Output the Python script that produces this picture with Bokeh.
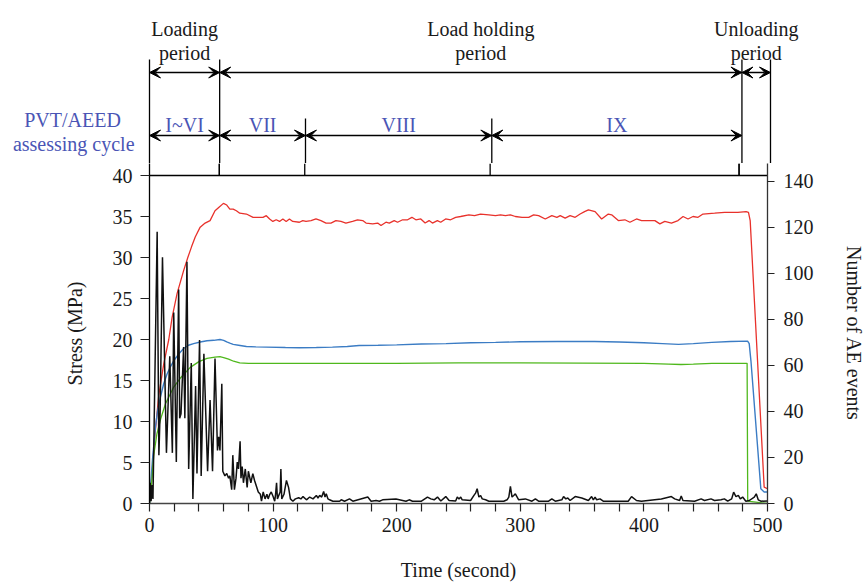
from bokeh.plotting import figure
from bokeh.models import Range1d, LinearAxis, FixedTicker, Arrow, VeeHead
from bokeh.core.properties import value
from bokeh.embed import file_html
from bokeh.resources import INLINE

FONT = "Liberation Serif"

# ---------------- data ----------------
red_t = [0, 2, 4.5, 7.5, 11.5, 15.6, 18.3, 22.3, 27.6, 31, 34, 37, 41, 45, 49, 53, 56, 59.8,
         62.5, 65, 67.7, 70.3, 73, 78.4, 83.8, 89.1, 91.8, 94.5, 97.2, 99.8, 102.5, 105.2, 107.9,
         110.6, 113.2, 115.9, 121.3, 124, 126.6, 130.7, 134.7, 138.7, 142.8, 146.8, 150.8, 154.9,
         158.9, 164.3, 168.3, 172.5, 175.2, 180.6, 184.6, 187.3, 191.3, 194, 198, 200.7, 204.8,
         208.8, 212.3, 215.5, 219.5, 223, 226.2, 228.9, 232.9, 235.6, 239.6, 243.6, 247.7, 251.7,
         258.4, 263, 267.8, 274.5, 279.9, 284, 288, 292, 296, 301.4, 306.8, 310.8, 314.8, 320.2,
         325.5, 329.6, 332.3, 336.3, 340.3, 344.4, 348.4, 352, 355.1, 360.5, 365.8, 371.2, 373.9,
         379.3, 384.6, 388.7, 394, 398.1, 404.8, 408.9, 412.9, 416.9, 422.3, 427.6, 431.7, 435.7,
         439.7, 443.8, 447.8, 457.2, 465.3, 476, 482.7, 484.6, 486, 497.3, 500]
red_v = [0.3, 3.5, 8.5, 13.2, 17.0, 20.0, 22.7, 25.6, 28.4, 30.0, 31.3, 32.5, 33.7, 34.2, 34.5, 35.7, 36.1, 36.6,
         36.4, 35.9, 35.9, 35.7, 35.4, 35.3, 34.9, 34.9, 34.9, 35.1, 34.7, 34.4, 34.6, 34.4, 34.7,
         34.4, 34.7, 34.4, 34.3, 34.5, 34.4, 34.5, 34.7, 34.5, 34.2, 34.2, 34.5, 34.4,
         34.2, 34.4, 34.6, 34.5, 34.2, 34.1, 34.2, 33.9, 34.3, 34.2, 34.5, 34.3, 34.6,
         34.6, 34.9, 34.6, 34.7, 34.2, 34.5, 34.2, 34.5, 34.3, 34.7, 34.6, 34.9, 35.0,
         35.2, 35.1, 35.3, 35.2, 35.1, 35.2, 35.1, 35.2, 35.0, 34.9, 34.9, 35.2, 35.1, 34.7,
         35.1, 34.9, 35.1, 34.8, 35.1, 34.9, 35.3, 35.6, 35.8, 35.6, 34.7, 35.3, 35.2,
         34.5, 34.6, 34.3, 34.7, 34.5, 34.5, 34.5, 34.1, 34.4, 34.2, 34.5, 35.0, 34.7,
         35.0, 34.9, 35.3, 35.4, 35.5, 35.5, 35.6, 35.5, 34.5, 2.0, 1.8]

blue_t = [0, 0.8, 2.5, 4.8, 6.5, 8.9, 11.5, 14.2, 17, 19.6, 23.5, 27.6, 31.5, 35.7, 41, 46.5, 52, 57,
          60, 62.5, 65, 67.7, 72, 78.4, 86, 94.5, 110, 121.3, 135, 148, 160, 169.6, 185, 200, 220,
          240, 260, 280, 300, 330, 360, 380, 400, 415, 428, 440, 455, 470, 483.9, 485.2, 486.6,
          494.6, 497.3, 500]
blue_v = [0, 2.0, 5.5, 9.3, 11.3, 13.0, 14.6, 15.8, 16.7, 17.4, 18.2, 18.9, 19.3, 19.5, 19.7, 19.85, 19.9, 20.0,
          19.9, 19.7, 19.55, 19.4, 19.3, 19.15, 19.1, 19.07, 19.02, 19.0, 19.02, 19.07, 19.15, 19.27, 19.3, 19.35, 19.45,
          19.5, 19.6, 19.65, 19.72, 19.75, 19.75, 19.7, 19.6, 19.5, 19.4, 19.5, 19.65, 19.75, 19.8, 19.5, 17.4,
          1.8, 1.4, 1.4]

green_t = [0, 2, 3.5, 6, 9, 13, 19.6, 25, 33, 40, 46.5, 53, 57, 60, 64, 68, 73, 80, 100, 150, 200,
           250, 300, 350, 400, 420, 430, 440, 455, 483.5, 484, 500]
green_v = [0, 3.0, 6.0, 8.5, 10.3, 12.2, 14.2, 15.3, 16.6, 17.3, 17.7, 17.85, 17.9, 17.8, 17.6, 17.35, 17.15, 17.1,
           17.08, 17.08, 17.1, 17.15, 17.15, 17.12, 17.1, 17.0, 16.95, 17.0, 17.1, 17.1, 0.3, 0.0]

ae_t = [0, 0.6, 1.3, 2, 2.8, 6.2, 7.6, 8.6, 10.5, 13.7, 16.4, 18.5, 19.6, 21.7, 23.6, 24.4, 25.5, 27.6,
        28.6, 30.3, 31.7, 33.8, 35.1, 37.3, 38.4, 40.5, 41.8, 44, 47, 49, 51, 53, 55, 56, 57, 58.5,
        59.3, 61, 62.5, 64, 65, 66.5, 67.4, 68.7, 70, 71, 72, 73.3, 74, 75, 76, 77.5, 79, 80, 82,
        83.6, 85, 88, 89.7, 90.6, 92, 93.5, 95, 96, 97.3, 98.5, 100, 101.3, 102, 102.8, 103.5, 105.7,
        106.3, 107, 108.8, 110.8, 112.5, 114, 116, 118, 120.7, 122.5, 124.2, 127, 129.6, 132.3, 135,
        136.3, 137.7, 139.3, 140.9, 142, 143, 144.4, 145.7, 148.4, 153.8, 155.1, 157.8, 161.8, 164.5,
        176.6, 179.3, 183.3, 186, 188.6, 199.4, 207.5, 210.1, 212.8, 220, 224.9, 227.6, 230.3, 233,
        235.7, 239.7, 242.4, 247.7, 249, 250.4, 251.8, 253, 259.8, 262.5, 263.8, 265.1, 266.5, 267.9,
        269.2, 271.9, 274.6, 286.6, 289.3, 290.7, 292, 293.3, 294.7, 296, 298.7, 304.1, 309.4, 312.2,
        314.8, 322.9, 325.5, 328.3, 333.6, 335, 336.8, 338.4, 340.3, 344.4, 349.7, 355.1, 357.7,
        359.1, 360.5, 361.8, 364.5, 367.1, 387.3, 390, 394, 398, 414.1, 422.2, 424.9, 428.9, 430.2,
        431.6, 441, 446.3, 449, 454.3, 457.1, 462.4, 465.1, 467.8, 471, 472.6, 474.5, 476.4, 478,
        479.9, 482.5, 485.3, 489.3, 490.9, 492.5, 494.6, 500]
ae_v = [0, 9, 1, 8, 2, 118, 21, 40, 107, 22, 64, 22, 83, 18, 93, 37, 39, 68,
        37, 105, 15, 61, 2, 51, 13, 71, 12, 65, 14, 45, 14, 63, 23, 29, 23, 52,
        14, 12, 13, 11, 12, 6, 21, 6, 11, 18, 15, 27, 11, 16, 9, 15, 7, 14, 9,
        13, 10, 5, 4, 1, 5, 2, 4, 2, 4, 5, 3, 1, 4, 9, 2, 5,
        15, 2, 4, 10, 7, 2, 1, 2, 2.5, 2, 3, 1.6, 2.8, 2, 3.5,
        2.4, 3.5, 2.8, 5.2, 2.8, 4.2, 2, 1.6, 1, 1, 1.6, 1, 2, 1,
        2.8, 1, 1.3, 1, 1.6, 2, 1, 1.6, 1, 1, 2.8, 2, 1.6, 2.8,
        1.1, 3, 1.3, 1.1, 2.8, 2, 2.8, 1.6, 1.3, 3.5, 4.5, 6.4, 2.8, 3.5,
        2, 1.6, 1, 1, 1.6, 2.8, 7.4, 2.8, 3.5, 4.2, 1.6, 2, 1, 2,
        1, 1, 2, 1, 1.6, 3, 2, 2.4, 1.3, 3, 2.4, 1.3, 3,
        1.6, 2.8, 1.6, 2, 1, 1, 3, 1.3, 1, 2, 3, 2, 1.3, 3.3,
        1.3, 1, 2, 1.3, 2, 1.3, 1.6, 2, 1, 2, 4.9, 3, 3.5, 2,
        2.8, 1, 1.3, 2.8, 4.2, 1.6, 1, 1.1]

x_ticks = [0, 100, 200, 300, 400, 500]
x_minor = [20, 40, 60, 80, 120, 140, 160, 180, 220, 240, 260, 280, 320, 340, 360, 380, 420, 440, 460, 480]
stress_ticks = [0, 5, 10, 15, 20, 25, 30, 35, 40]
ae_ticks = [0, 20, 40, 60, 80, 100, 120, 140]
stress_max = 40

period_edges = [0, 56.5, 477, 500]
period_names = [("Loading", "period"), ("Load holding", "period"), ("Unloading", "period")]
cycle_edges = [0, 56.5, 125.6, 275.6, 477]
cycle_names = ["I~VI", "VII", "VIII", "IX"]

LABEL_BLUE = "#4a55b5"
INK = "#1a1a1a"

# layout constants (pixels)
W = 867
TOP_H = 163            # height of annotation strip
FRAME_L, FRAME_R = 149, 97
PX_PER_MPA = 8.2
PX_PER_EVT = 2.302
MAIN_H = 584 - TOP_H
BOTTOM = 81
frame_h = MAIN_H - BOTTOM                 # frame spans from top of main figure to the x axis
y_top = frame_h / PX_PER_MPA             # a little above 40 so the 40 tick label is not cut
ae_top = frame_h / PX_PER_EVT
px_per_t = (W - FRAME_L - FRAME_R) / 500.0

# ---------------- top annotation strip ----------------
top = figure(width=W, height=TOP_H,
             x_range=Range1d(-FRAME_L / px_per_t, 500 + FRAME_R / px_per_t),
             y_range=Range1d(TOP_H, 0),
             x_axis_type=None, y_axis_type=None, output_backend="svg", toolbar_location=None,
             min_border_left=0, min_border_right=0, min_border_top=0, min_border_bottom=0,
             outline_line_color=None, title=None)
top.background_fill_color = "white"
top.border_fill_color = "white"

outer = [e for e in period_edges]
inner = [e for e in cycle_edges if e not in period_edges]
top.segment(x0=outer, y0=[59] * len(outer), x1=outer, y1=[TOP_H + 2] * len(outer),
            line_color="black", line_width=1.3)
top.segment(x0=inner, y0=[118] * len(inner), x1=inner, y1=[TOP_H + 2] * len(inner),
            line_color="black", line_width=1.3)

def dbl_arrow(fig, x0, x1, y):
    fig.add_layout(Arrow(start=VeeHead(size=11, fill_color="black", line_color="black", line_width=1),
                         end=VeeHead(size=11, fill_color="black", line_color="black", line_width=1),
                         x_start=x0, y_start=y, x_end=x1, y_end=y, line_width=1.4, line_color="black"))

for a, b in zip(period_edges[:-1], period_edges[1:]):
    dbl_arrow(top, a, b, 72)
for a, b in zip(cycle_edges[:-1], cycle_edges[1:]):
    dbl_arrow(top, a, b, 135)

pmid = [(a + b) / 2 for a, b in zip(period_edges[:-1], period_edges[1:])]
top.text(x=pmid, y=[28] * 3, text=[n[0] for n in period_names], text_font=value(FONT),
         text_font_size="20px", text_align="center", text_baseline="alphabetic", text_color=INK)
top.text(x=pmid, y=[52] * 3, text=[n[1] for n in period_names], text_font=value(FONT),
         text_font_size="20px", text_align="center", text_baseline="alphabetic", text_color=INK)

cmid = [(a + b) / 2 for a, b in zip(cycle_edges[:-1], cycle_edges[1:])]
top.text(x=cmid, y=[124] * 4, text=cycle_names, text_font=value(FONT),
         text_font_size="20px", text_align="center", text_baseline="alphabetic", text_color=LABEL_BLUE)
top.text(x=[-62, -61], y=[119, 143], text=["PVT/AEED", "assessing cycle"], text_font=value(FONT),
         text_font_size="20px", text_align="center", text_baseline="alphabetic", text_color=LABEL_BLUE)

# ---------------- main chart ----------------
p = figure(width=W, height=MAIN_H, x_range=Range1d(0, 500), y_range=Range1d(0, y_top),
           output_backend="svg", toolbar_location=None, title=None,
           min_border_left=FRAME_L, min_border_right=FRAME_R, min_border_top=0, min_border_bottom=BOTTOM)
p.extra_y_ranges = {"ae": Range1d(0, ae_top)}
p.xgrid.visible = False
p.ygrid.visible = False
p.outline_line_color = None
p.background_fill_color = "white"
p.border_fill_color = "white"

# frame top line at 40 MPa and the short continuations of the period/cycle separators
p.segment(x0=[0], y0=[stress_max], x1=[500], y1=[stress_max], line_color="black", line_width=1.3)
stub = [e for e in cycle_edges + period_edges if 0 < e < 500]
p.segment(x0=stub, y0=[stress_max] * len(stub), x1=stub, y1=[y_top] * len(stub),
          line_color="black", line_width=1.3)

p.line(red_t, red_v, line_color="#e8312b", line_width=1.3)
p.line(blue_t, blue_v, line_color="#3b7cc4", line_width=1.4)
p.line(green_t, green_v, line_color="#4fb81c", line_width=1.3)
p.line(ae_t, ae_v, line_color="#111111", line_width=1.5, y_range_name="ae")

xa = p.xaxis[0]
xa.ticker = FixedTicker(ticks=x_ticks, minor_ticks=x_minor)
xa.axis_label = "Time (second)"
xa.major_tick_in = 0
xa.major_tick_out = 8
xa.minor_tick_in = 0
xa.minor_tick_out = 8
xa.major_label_standoff = 6
xa.axis_label_standoff = 24

ya = p.yaxis[0]
ya.ticker = FixedTicker(ticks=stress_ticks)
ya.axis_label = "Stress (MPa)"
ya.major_tick_in = 0
ya.major_tick_out = 9
ya.minor_tick_line_color = None
ya.major_label_standoff = 8
ya.axis_label_standoff = 24

ra = LinearAxis(y_range_name="ae", ticker=FixedTicker(ticks=ae_ticks), axis_label="Number of AE events")
ra.major_tick_in = 0
ra.major_tick_out = 7
ra.minor_tick_line_color = None
ra.major_label_standoff = 9
ra.axis_label_standoff = 26
p.add_layout(ra, "right")

for ax in [xa, ya, ra]:
    ax.major_label_text_font = FONT
    ax.major_label_text_font_size = "20px"
    ax.major_label_text_color = INK
    ax.axis_label_text_font = FONT
    ax.axis_label_text_font_size = "20px"
    ax.axis_label_text_font_style = "normal"
    ax.axis_label_text_color = INK
    ax.major_tick_line_width = 1.2
    ax.major_tick_line_color = "#222222"
    ax.axis_line_width = 1.3
ya.axis_line_color = "black"
xa.axis_line_color = "#444444"
ra.axis_line_color = "#333333"
xa.minor_tick_line_width = 1.2
xa.minor_tick_line_color = "#222222"

open("out.html", "w").write(file_html([top, p], INLINE))
